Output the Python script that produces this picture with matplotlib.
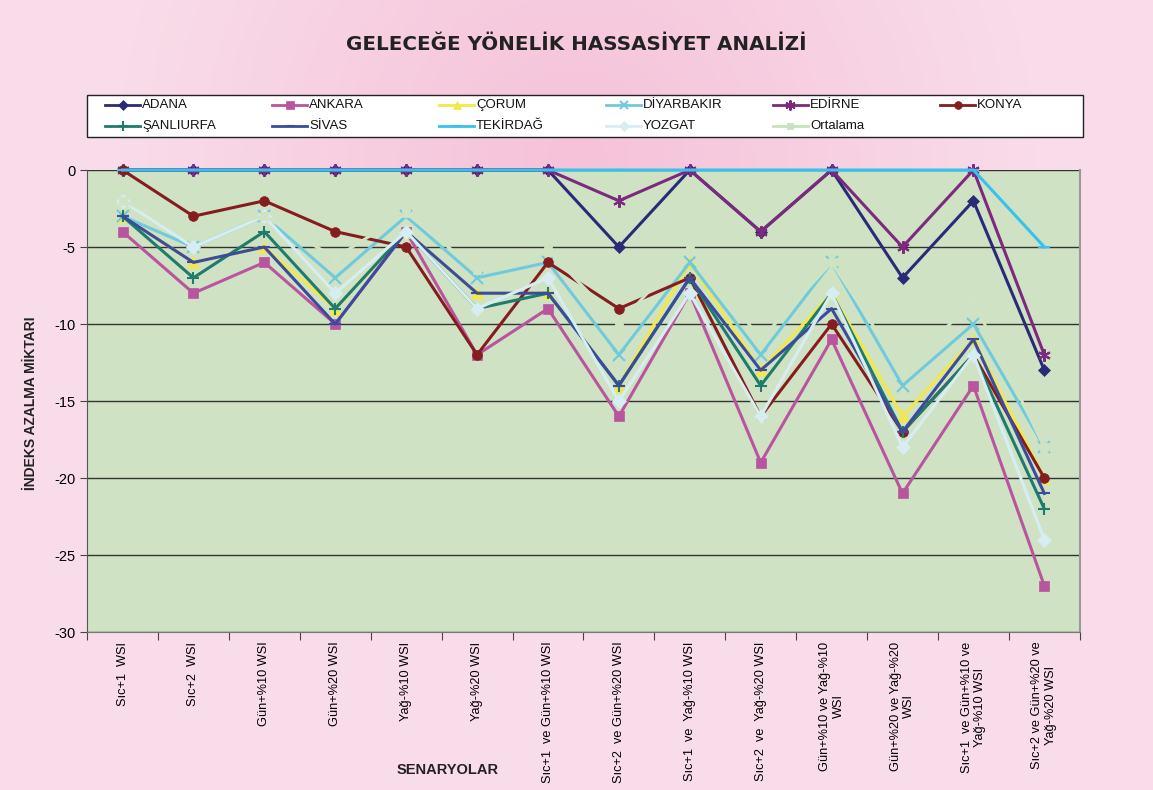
import numpy as np
import matplotlib.pyplot as plt
from matplotlib.colors import LinearSegmentedColormap
from matplotlib.lines import Line2D
from matplotlib.patches import Rectangle

plt.rcParams['font.family'] = ['Liberation Sans', 'DejaVu Sans']
plt.rcParams['axes.unicode_minus'] = False

scenarios = ['Sıc+1  WSI', 'Sıc+2  WSI', 'Gün+%10 WSI', 'Gün+%20 WSI',
             'Yağ-%10 WSI', 'Yağ-%20 WSI', 'Sıc+1  ve Gün+%10 WSI',
             'Sıc+2  ve Gün+%20 WSI', 'Sıc+1  ve  Yağ-%10 WSI',
             'Sıc+2  ve  Yağ-%20 WSI', 'Gün+%10 ve Yağ-%10\nWSI',
             'Gün+%20 ve Yağ-%20\nWSI', 'Sıc+1  ve Gün+%10 ve\nYağ-%10 WSI',
             'Sıc+2 ve Gün+%20 ve\nYağ-%20 WSI']

adana = [0, 0, 0, 0, 0, 0, 0, -5, 0, -4, 0, -7, -2, -13]
ankara = [-4, -8, -6, -10, -4, -12, -9, -16, -8, -19, -11, -21, -14, -27]
corum = [-3, -6, -5, -9, -4, -8, -8, -14, -6, -13, -8, -16, -11, -20]
diyarbakir = [-3, -5, -3, -7, -3, -7, -6, -12, -6, -12, -6, -14, -10, -18]
edirne = [0, 0, 0, 0, 0, 0, 0, -2, 0, -4, 0, -5, 0, -12]
konya = [0, -3, -2, -4, -5, -12, -6, -9, -7, -16, -10, -17, -12, -20]
sanliurfa = [-3, -7, -4, -9, -4, -9, -8, -14, -7, -14, -8, -17, -12, -22]
sivas = [-3, -6, -5, -10, -4, -8, -8, -14, -7, -13, -9, -17, -11, -21]
tekirdag = [0, 0, 0, 0, 0, 0, 0, 0, 0, 0, 0, 0, 0, -5]
yozgat = [-2, -5, -3, -8, -4, -9, -7, -15, -8, -16, -8, -18, -12, -24]
ortalama = [-2, -4, -3, -5.7, -2.8, -6.5, -5.2, -10, -5, -11, -6, -13, -8.5, -18]

series = [
    ('ADANA', adana, '#2b2a78', 'D', 6),
    ('ANKARA', ankara, '#b8559e', 's', 7),
    ('ÇORUM', corum, '#f2e84a', '^', 8),
    ('DİYARBAKIR', diyarbakir, '#70cadc', 'x', 8),
    ('EDİRNE', edirne, '#7b2a7e', (6, 2, 0), 9),
    ('KONYA', konya, '#851c1e', 'o', 7),
    ('ŞANLIURFA', sanliurfa, '#1f7b6c', '+', 9),
    ('SİVAS', sivas, '#3b4c9e', '_', 9),
    ('TEKİRDAĞ', tekirdag, '#36c1ee', '_', 9),
    ('YOZGAT', yozgat, '#d6edf2', 'D', 7),
    ('Ortalama', ortalama, '#cee4c3', 's', 6),
]

W, H = 1153, 790
fig = plt.figure(figsize=(W / 100, H / 100), dpi=100)
fig.patch.set_facecolor('#f8d6e5')

# pink gradient background
bg = fig.add_axes([0, 0, 1, 1], zorder=-10)
bg.axis('off')
gx = np.linspace(-1, 1, 300)
gy = np.linspace(-1, 1, 200)
X, Y = np.meshgrid(gx, gy)
grad = np.clip(1 - np.sqrt((X / 0.8) ** 2 + ((Y - 0.6) / 1.2) ** 2), 0, 1)
cmap = LinearSegmentedColormap.from_list('pinks', ['#f9dce9', '#f5c2d9'])
bg.imshow(grad, cmap=cmap, aspect='auto', extent=[0, 1, 0, 1], origin='lower')

ax = fig.add_axes([0.0755, 0.2, 0.861, 0.5848])
ax.set_facecolor('#cfe3c4')
x = np.arange(len(scenarios))

def edge_width(mk):
    return 1.5 if mk in ('x', '+', '_') or isinstance(mk, tuple) else 0.5

for name, vals, col, mk, ms in series:
    ax.plot(x, vals, color=col, lw=2.2, marker=mk, markersize=ms,
            markerfacecolor=col, markeredgecolor=col,
            markeredgewidth=edge_width(mk), label=name, clip_on=False, zorder=3)

ax.set_xlim(-0.5, len(scenarios) - 0.5)
ax.set_ylim(-30, 0)
ax.set_yticks(np.arange(-30, 1, 5))
ax.yaxis.grid(True, color='#333333', lw=1.0, zorder=1)
ax.set_axisbelow(True)

ax.set_xticks(np.arange(-0.5, len(scenarios), 1.0))
ax.set_xticklabels([])
ax.set_xticks(x, minor=True)
ax.set_xticklabels(scenarios, minor=True, rotation=90, fontsize=9.2,
                   va='top', ha='center', multialignment='center')
ax.tick_params(axis='x', which='minor', length=0, pad=7)
ax.tick_params(axis='x', which='major', length=6, direction='out', color='#444444')
ax.tick_params(axis='y', length=5, direction='out', labelsize=10.5, color='#444444')

ax.spines['top'].set_visible(False)
ax.spines['right'].set_color('#999999')
ax.spines['right'].set_linewidth(1.5)
ax.spines['left'].set_color('#555555')
ax.spines['bottom'].set_color('#777777')

fig.text(0.5, 0.944, 'GELECEĞE YÖNELİK HASSASİYET ANALİZİ', ha='center',
         va='center', fontsize=14.3, fontweight='bold', color='#222222',
         family='DejaVu Sans')
fig.text(0.027, 0.49, 'İNDEKS AZALMA MİKTARI', rotation=90, ha='center',
         va='center', fontsize=10, fontweight='bold', color='#222222')
fig.text(0.388, 0.025, 'SENARYOLAR', ha='center', va='center',
         fontsize=10.5, fontweight='bold', color='#222222')

# legend box drawn by hand so the columns are evenly spaced like Excel's
fig.add_artist(Rectangle((87 / W, 1 - 137 / H), 996 / W, 42 / H,
                         transform=fig.transFigure, facecolor='white',
                         edgecolor='#222222', lw=1.0))
for i, (name, vals, col, mk, ms) in enumerate(series):
    row, c = divmod(i, 6)
    x0 = 105 + 167 * c
    yy = 1 - (105 + 21 * row) / H
    lc = '#c6e2bb' if name == 'Ortalama' else col
    fig.add_artist(Line2D([x0 / W, (x0 + 35) / W], [yy, yy],
                          transform=fig.transFigure, color=lc, lw=2.0))
    fig.add_artist(Line2D([(x0 + 17.5) / W], [yy], transform=fig.transFigure,
                          color=lc, marker=mk, markersize=ms * 0.8,
                          markeredgewidth=edge_width(mk)))
    fig.text((x0 + 37) / W, yy, name, ha='left', va='center', fontsize=9.5,
             color='#111111')

fig.savefig('out.png', dpi=100, facecolor=fig.get_facecolor())
